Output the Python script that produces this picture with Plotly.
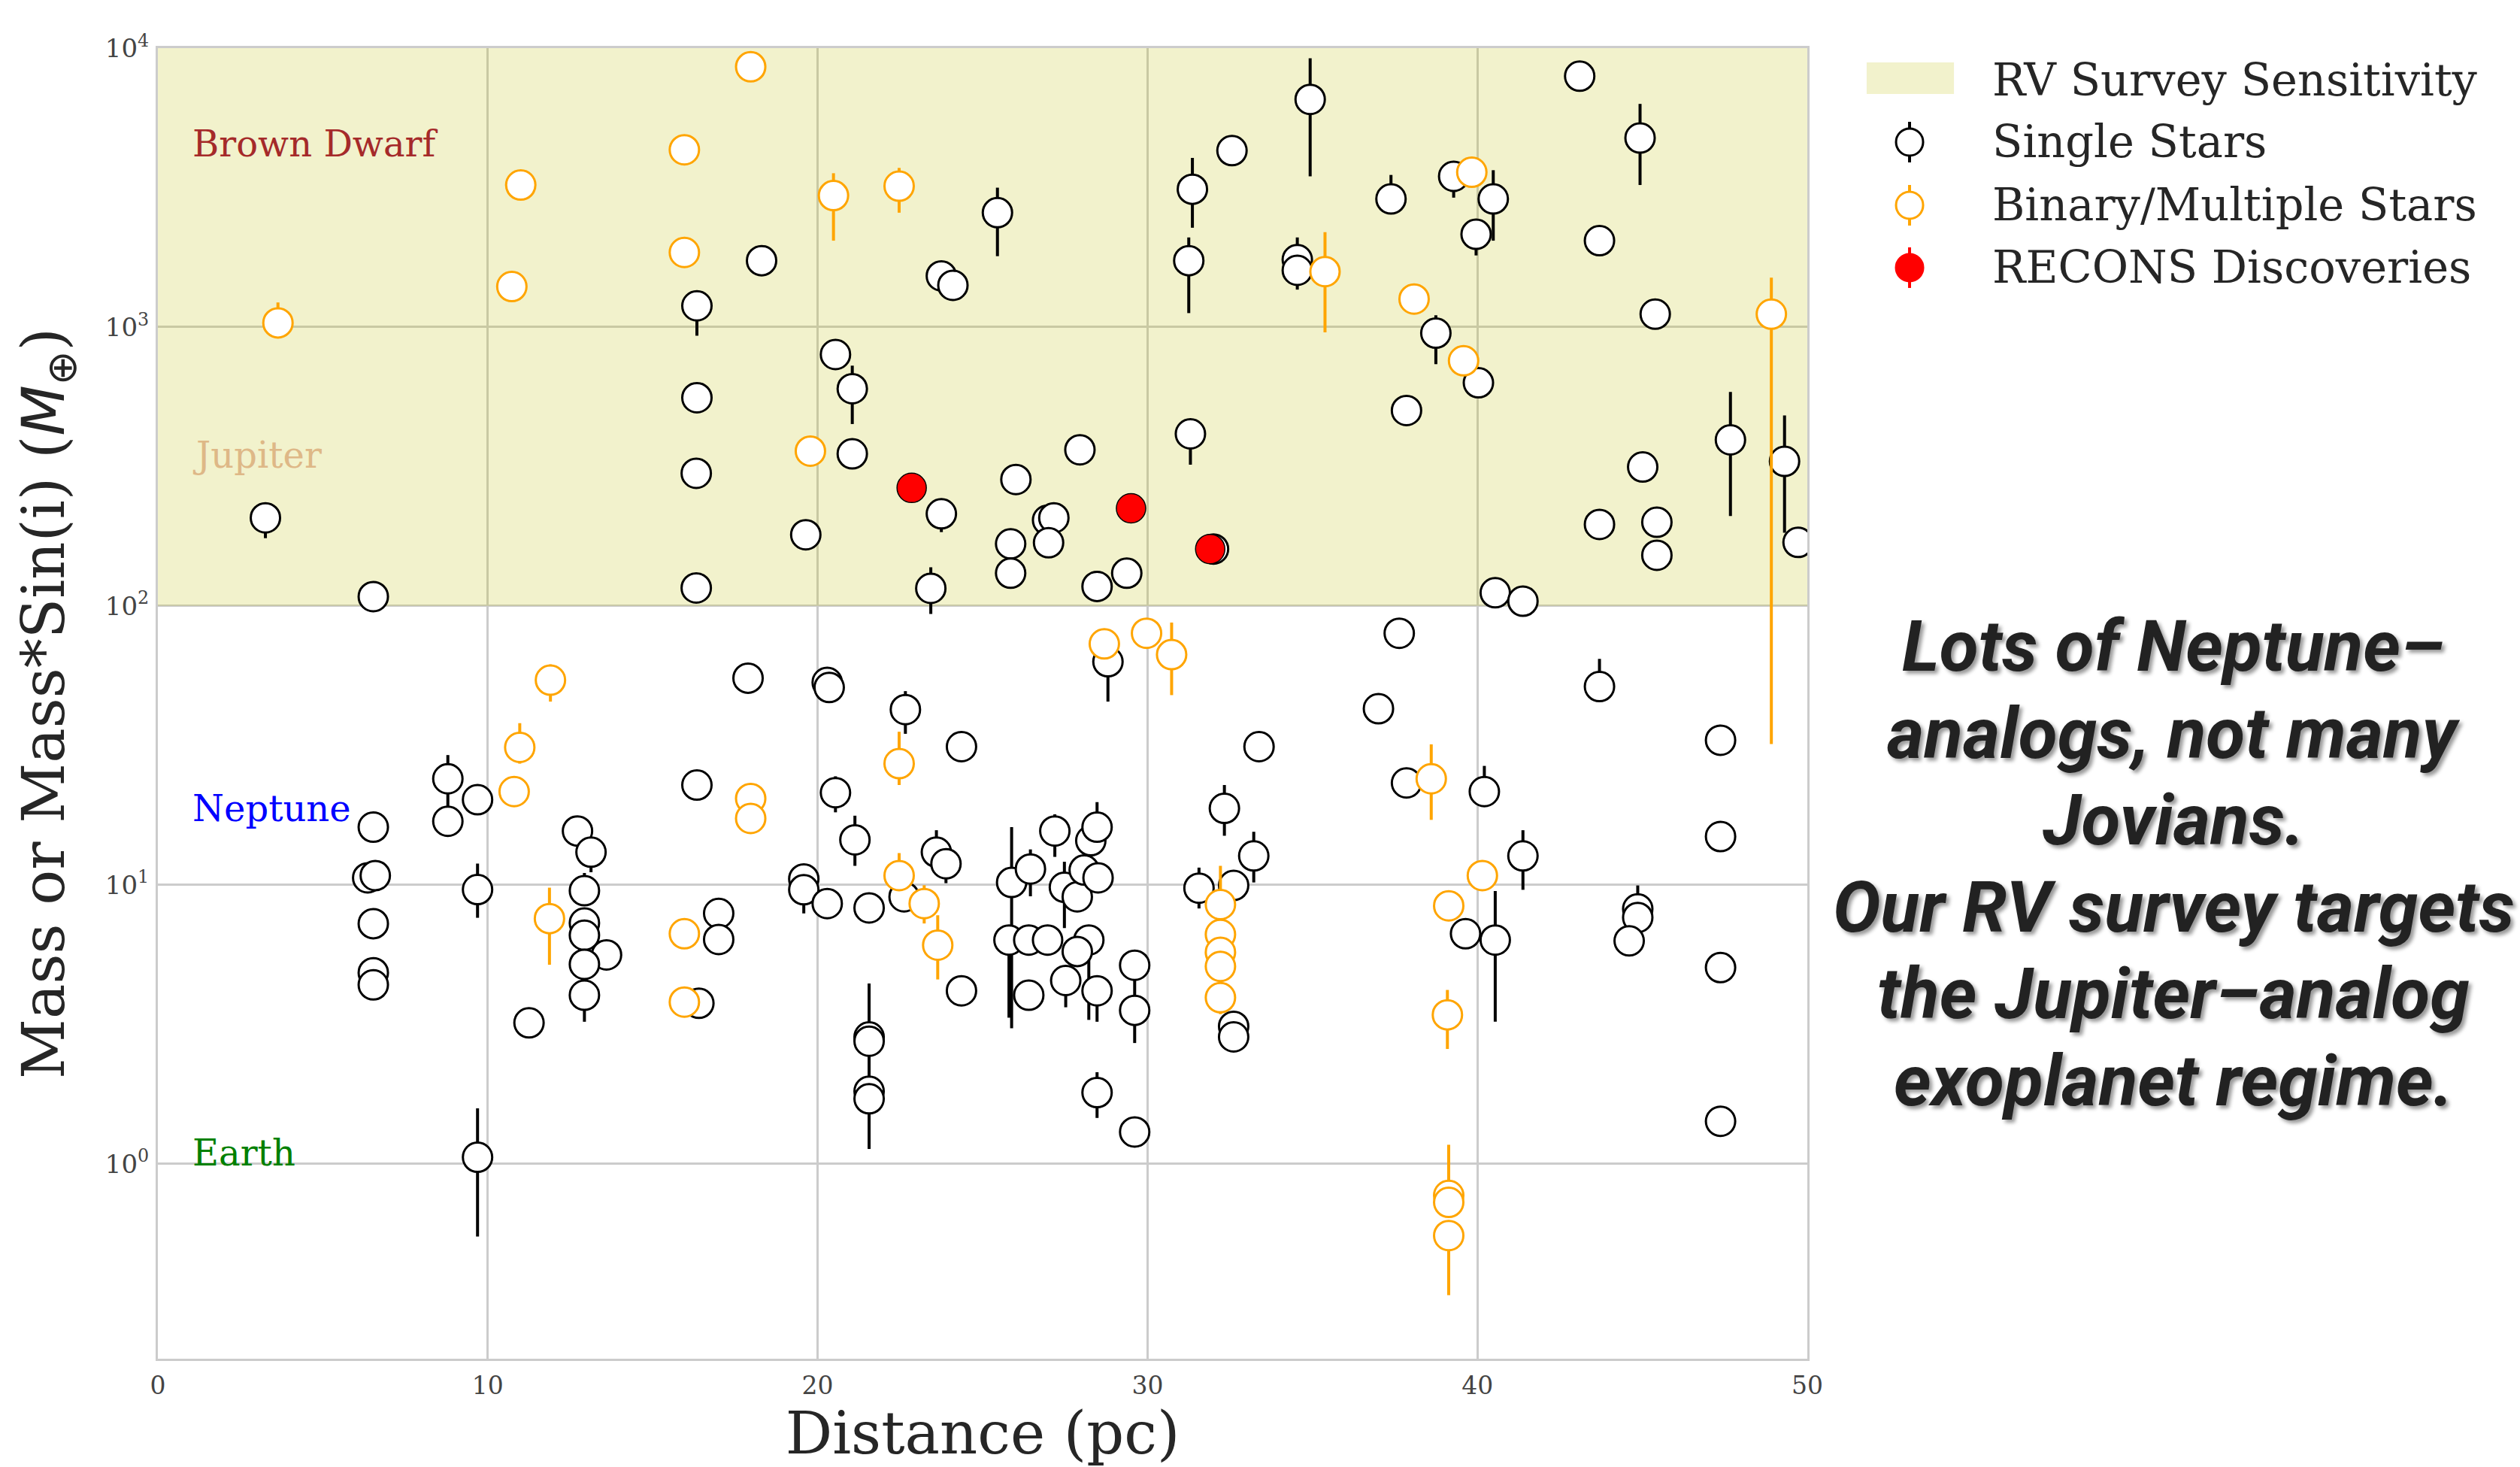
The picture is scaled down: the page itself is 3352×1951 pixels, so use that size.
import numpy as np
import plotly.graph_objects as go

# ---------------- data ----------------
single_dist = [3.26, 6.53, 16.34, 16.34, 16.32, 16.32, 18.30, 19.64, 20.54, 21.05, 21.05, 23.75, 24.10, 23.75,
               23.43, 25.45, 26.01, 25.85, 25.85, 26.97, 27.16, 27.00, 27.95, 28.47, 29.37, 31.30, 31.25, 31.36,
               32.56, 34.93, 34.54, 34.54, 37.38, 37.85, 38.74, 39.28, 39.96, 40.48, 40.03, 43.10, 43.70, 44.93,
               45.39, 43.70, 45.01, 45.44, 45.44, 47.67, 49.31, 49.72, 40.54, 41.38, 32.00,
               6.53, 6.36, 6.59, 6.53, 6.53, 6.53, 8.79, 8.79, 9.69, 9.69, 9.69, 11.25, 12.72, 13.13, 12.93,
               12.93, 12.93, 13.60, 12.93, 12.93, 16.40, 16.34, 17.00, 17.00, 17.89, 20.29, 20.35, 22.66, 20.54,
               21.13, 19.58, 19.58, 20.29, 21.56, 21.56, 21.56, 21.56, 21.56, 22.62, 23.60, 23.89, 24.36, 24.36,
               25.88, 25.80, 26.40, 26.97, 26.40, 26.45, 27.19, 27.48, 27.87, 28.08, 28.50, 28.28, 28.47, 28.22,
               27.87, 27.52, 28.47, 28.47, 29.61, 29.61, 29.61, 33.38, 32.33, 33.22, 31.56, 32.61, 32.61, 32.61,
               28.80, 37.00, 37.63, 37.85, 40.21, 41.38, 39.64, 40.54, 43.70, 44.86, 44.86, 44.60, 47.37, 47.37,
               47.37, 47.37]
single_mass = [207, 108, 1191, 558, 299, 116, 1730, 180, 797, 601, 351, 1525, 1411, 214,
               115.6, 2570, 284, 167, 131, 203, 207, 168.5, 363, 117.5, 131, 414, 1730, 3120,
               4290, 6550, 1745, 1597, 2880, 502, 951, 3470, 2150, 2880, 631, 7930, 2040, 4760,
               1112, 196, 315, 199.6, 152, 394, 330, 169, 111.5, 104, 160,
               16.1, 10.6, 10.8, 7.26, 4.84, 4.38, 24.0, 16.9, 20.2, 9.62, 1.055, 3.2, 15.6, 13.1, 9.53,
               7.3, 6.6, 5.61, 5.19, 4.02, 3.76, 22.8, 7.9, 6.37, 55.1, 53.2, 51.0, 42.5, 21.4,
               14.5, 10.5, 9.6, 8.57, 8.27, 2.85, 2.75, 1.82, 1.71, 9.06, 13.1, 11.9, 31.3, 4.17,
               10.2, 6.34, 6.34, 6.34, 4.02, 11.4, 15.6, 9.8, 9.06, 11.3, 10.6, 14.4, 16.1, 6.34,
               5.77, 4.54, 4.17, 1.8, 5.15, 3.55, 1.30, 31.3, 18.8, 12.7, 9.73, 9.95, 3.11, 2.85,
               63.1, 42.8, 79.8, 23.2, 21.6, 12.7, 6.68, 6.34, 51.4, 8.2, 7.64, 6.3, 33.0, 14.9,
               5.05, 1.42]
single_err_plus = [0, 0, 0, 0, 0, 0, 0, 0, 0, 126, 0, 0, 0, 0,
                   22, 590, 0, 0, 0, 0, 0, 0, 0, 0, 0, 0, 365, 920,
                   0, 2650, 350, 0, 630, 0, 151, 0, 290, 770, 0, 0, 0, 1550,
                   0, 0, 0, 0, 0, 191, 152, 0, 0, 0, 0,
                   0, 0, 0, 0, 0, 0, 5.2, 0, 0, 2.3, 0.525, 0, 0, 0, 1.5,
                   0, 0, 0, 0, 0, 0, 0, 0, 0, 0, 3.5, 0, 7.0, 3.1,
                   3.2, 0, 0, 0.9, 0.8, 1.58, 0, 0, 0, 0, 2.6, 0, 0, 0,
                   5.9, 0, 0, 0, 0, 2.0, 2.3, 2.3, 0, 0, 0, 0, 3.7, 0,
                   0, 0, 0, 0.33, 0, 1.0, 0, 0, 4.0, 2.8, 1.8, 0, 0, 0,
                   0, 0, 0, 0, 5.1, 3.0, 0, 3.16, 13.2, 1.75, 0, 0, 0, 0,
                   0, 0]
single_err_minus = [32, 0, 260, 0, 0, 0, 0, 0, 0, 152, 0, 0, 0, 30,
                    22, 775, 0, 0, 0, 0, 0, 0, 0, 0, 0, 93, 608, 850,
                    0, 3080, 0, 235, 0, 0, 215, 560, 344, 840, 0, 0, 0, 1530,
                    0, 0, 0, 0, 0, 184, 147, 0, 0, 0, 0,
                    0, 0, 0, 0, 0, 0, 7.0, 0, 0, 2.0, 0.507, 0, 0, 2.0, 0,
                    0, 0, 0, 0, 0.79, 0, 0, 0, 0, 0, 0, 0, 7.7, 3.2,
                    2.8, 0, 1.7, 0.9, 0, 0, 0.9, 0, 0.58, 0, 0, 1.76, 0, 0,
                    7.14, 3.0, 0, 0, 0.3, 2.3, 3.0, 2.8, 0, 2.5, 0, 0, 0, 3.06,
                    0, 0.9, 0.94, 0.34, 0, 0.84, 0, 0, 3.8, 2.5, 1.5, 0, 0, 0,
                    17.7, 0, 0, 0, 0, 3.1, 0, 3.11, 0, 0, 0, 0.3, 0, 0,
                    0, 0]

binary_dist = [3.64, 11.00, 10.73, 15.96, 15.96, 17.97, 20.48, 22.47, 19.78, 35.38, 38.08, 39.58, 39.83, 48.91,
               10.97, 10.80, 11.90, 11.87, 15.96, 15.96, 17.97, 17.97, 22.47, 22.47, 23.23, 23.64, 28.69, 29.97,
               30.73, 32.21, 32.21, 32.21, 32.21, 32.21, 38.60, 40.15, 39.13, 39.09, 39.13, 39.13, 39.13]
binary_mass = [1035, 3230, 1397, 4320, 1851, 8570, 2960, 3200, 359, 1580, 1260, 757, 3590, 1112,
               31.1, 21.6, 54.2, 7.57, 6.68, 3.8, 20.4, 17.3, 27.2, 10.8, 8.57, 6.08, 73.1, 79.8,
               66.9, 8.5, 6.64, 5.73, 5.1, 3.94, 24.0, 10.8, 8.41, 3.42, 0.77, 0.727, 0.553]
binary_err_plus = [190, 0, 0, 0, 0, 0, 600, 520, 0, 610, 0, 0, 0, 391,
                   6.9, 0, 7.5, 2.2, 0, 0, 0, 0, 8.2, 2.2, 1.4, 1.7, 0, 0,
                   20.3, 3.2, 0, 0, 0, 0, 7.9, 0, 0, 0.78, 0.4, 0, 0]
binary_err_minus = [0, 0, 0, 0, 0, 0, 920, 630, 0, 623, 0, 0, 0, 1080,
                    3.9, 0, 8.8, 2.4, 0, 0, 0, 0, 4.4, 0, 1.3, 1.5, 0, 0,
                    19.0, 0, 0, 0, 0, 0.5, 6.9, 0, 0, 0.84, 0, 0, 0.215]

recons_dist = [22.85, 29.50, 31.90]
recons_mass = [265, 224, 160]

rv_region_dist = [0, 50, 50, 0, 0]
rv_region_mass = [100, 100, 10000, 10000, 100]

ref_names = ["Brown Dwarf", "Jupiter", "Neptune", "Earth"]
ref_masses = [4131, 317.8, 17.15, 1.0]
ref_colors = ["#A52A2A", "#DEB887", "#0000FF", "#008000"]

x_tickvals = [0, 10, 20, 30, 40, 50]
y_tickvals = [1, 10, 100, 1000, 10000]
y_ticktext = ["10<sup>0</sup>", "10<sup>1</sup>", "10<sup>2</sup>", "10<sup>3</sup>", "10<sup>4</sup>"]

legend_names = ["RV Survey Sensitivity", "Single Stars", "Binary/Multiple Stars", "RECONS Discoveries"]

note_lines = ["Lots of Neptune–", "analogs, not many", "Jovians.", "Our RV survey targets",
              "the Jupiter–analog", "exoplanet regime."]

# ---------------- styles ----------------
SHADE = "rgba(191,191,0,0.2)"
ORANGE = "#FFA500"
MS = 39
MLW = 3
EBW = 4

fig = go.Figure()

fig.add_trace(go.Scatter(
    x=rv_region_dist, y=rv_region_mass, mode="lines", fill="toself",
    fillcolor=SHADE, line=dict(width=0), hoverinfo="skip", name=legend_names[0]))

fig.add_trace(go.Scatter(
    x=single_dist, y=single_mass, mode="markers", name=legend_names[1],
    marker=dict(symbol="circle", size=MS, color="white", line=dict(color="black", width=MLW)),
    error_y=dict(type="data", symmetric=False, array=single_err_plus, arrayminus=single_err_minus,
                 color="black", thickness=EBW, width=0)))

fig.add_trace(go.Scatter(
    x=binary_dist, y=binary_mass, mode="markers", name=legend_names[2],
    marker=dict(symbol="circle", size=MS, color="white", line=dict(color=ORANGE, width=MLW)),
    error_y=dict(type="data", symmetric=False, array=binary_err_plus, arrayminus=binary_err_minus,
                 color=ORANGE, thickness=EBW, width=0)))

fig.add_trace(go.Scatter(
    x=recons_dist, y=recons_mass, mode="markers", name=legend_names[3],
    marker=dict(symbol="circle", size=MS, color="red", line=dict(color="black", width=1.5))))

# reference-mass labels
annotations = []
for name, m, c in zip(ref_names, ref_masses, ref_colors):
    annotations.append(dict(x=1, y=np.log10(m), xref="x", yref="y", text=name, showarrow=False,
                            xanchor="left", yanchor="bottom", yshift=-15,
                            font=dict(family="DejaVu Serif", size=48, color=c)))

# big side note, one annotation per line
note_top = 0.5436
note_step = 0.06628
for i, line in enumerate(note_lines):
    annotations.append(dict(
        x=1.222, y=note_top - i * note_step, xref="paper", yref="paper", xanchor="center", yanchor="middle",
        showarrow=False, align="center", text=line,
        font=dict(family="Roboto", size=95, color="#222222", weight="bold", style="italic",
                  shadow="4px 4px 5px rgba(0,0,0,0.4)")))

# custom legend (layout decoration)
leg_x_sym = 1.062
leg_x_txt = 1.1112
leg_rows = [0.9759, 0.9283, 0.8801, 0.8325]
shapes = []
shapes.append(dict(type="rect", xref="paper", yref="paper", x0=1.036, x1=1.0889, y0=0.965, y1=0.9891,
                   fillcolor=SHADE, line=dict(width=0), layer="above"))
sym_edge = ["black", ORANGE, "red"]
sym_fill = ["white", "white", "red"]
for i, ry in enumerate(leg_rows[1:]):
    shapes.append(dict(type="line", xref="paper", yref="paper", xsizemode="pixel", ysizemode="pixel",
                       xanchor=leg_x_sym, yanchor=ry, x0=0, x1=0, y0=-27, y1=27,
                       line=dict(color=sym_edge[i], width=EBW), layer="above"))
    shapes.append(dict(type="circle", xref="paper", yref="paper", xsizemode="pixel", ysizemode="pixel",
                       xanchor=leg_x_sym, yanchor=ry, x0=-18, x1=18, y0=-18, y1=18,
                       fillcolor=sym_fill[i], line=dict(color=sym_edge[i], width=MLW), layer="above"))
for name, ry in zip(legend_names, leg_rows):
    annotations.append(dict(x=leg_x_txt, y=ry, xref="paper", yref="paper", xanchor="left", yanchor="middle",
                            text=name, showarrow=False, font=dict(family="DejaVu Serif", size=59, color="#262626")))

fig.update_layout(
    width=3352, height=1951,
    margin=dict(l=210, r=948, t=64, b=144, pad=0),
    paper_bgcolor="white", plot_bgcolor="white",
    font=dict(family="DejaVu Serif", color="#262626"),
    showlegend=False,
    annotations=annotations, shapes=shapes,
    xaxis=dict(range=[0, 50], tickvals=x_tickvals, ticks="", showgrid=True, gridcolor="#cccccc", gridwidth=2.5,
               zeroline=False, showline=True, linecolor="#cccccc", linewidth=3, mirror=True,
               tickfont=dict(family="DejaVu Serif", size=33, color="#444444"), ticklabelstandoff=4,
               title=dict(text="Distance (pc)", font=dict(family="DejaVu Serif", size=78, color="#262626"),
                          standoff=42), automargin=False),
    yaxis=dict(type="log", range=[np.log10(0.2), 4], tickvals=y_tickvals, ticktext=y_ticktext, ticks="",
               showgrid=True, gridcolor="#cccccc", gridwidth=2.5,
               zeroline=False, showline=True, linecolor="#cccccc", linewidth=3, mirror=True,
               tickfont=dict(family="DejaVu Serif", size=34, color="#444444"), ticklabelstandoff=2,
               title=dict(text="Mass or Mass*Sin(i) (<span style='font-family:DejaVu Sans'><i>M</i><sub>⊕</sub></span>)",
                          font=dict(family="DejaVu Serif", size=78, color="#262626"), standoff=29),
               automargin=False),
)

fig.write_html("out.html", config={"displayModeBar": False},
               post_script="document.body.style.margin='0';document.body.style.overflow='hidden';")
